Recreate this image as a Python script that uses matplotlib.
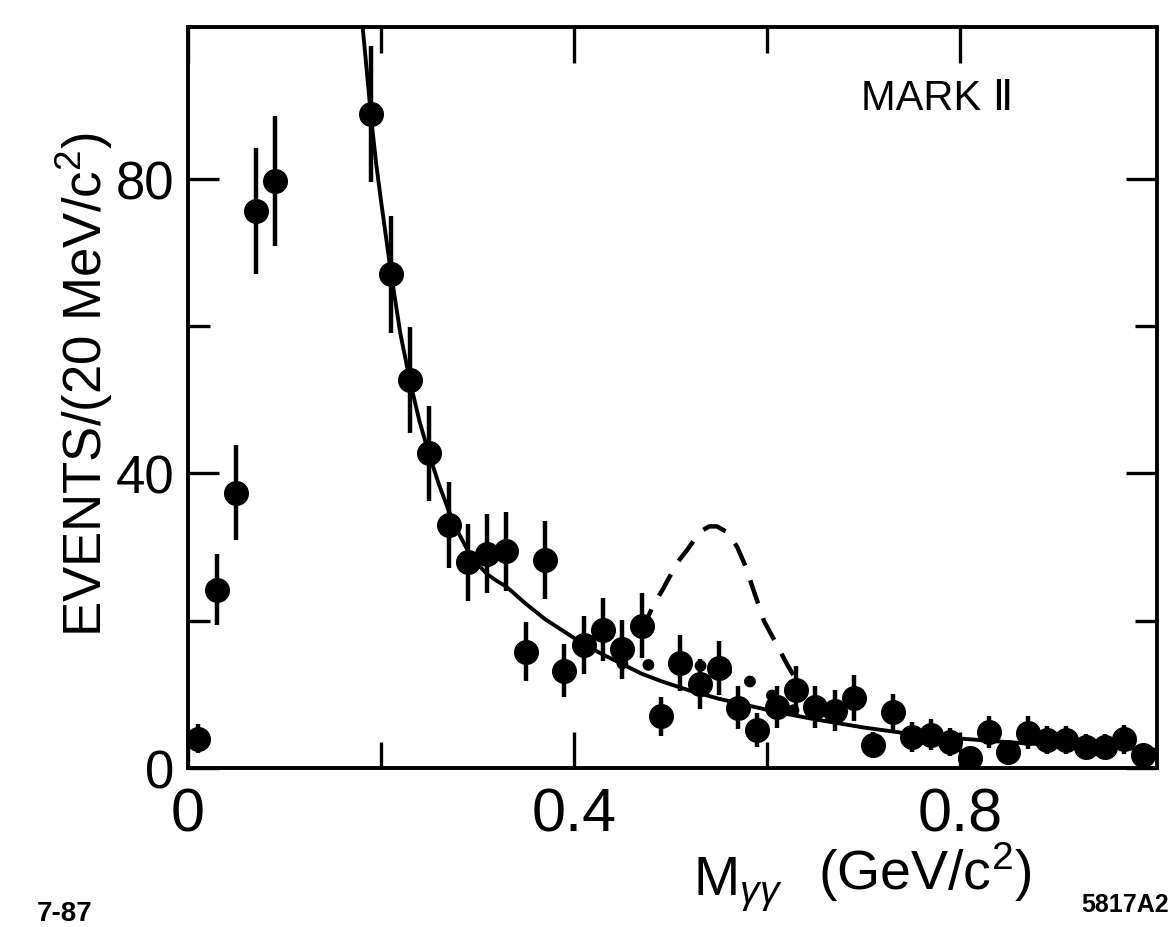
import numpy as np
import matplotlib
matplotlib.use("Agg")
import matplotlib.pyplot as plt
from matplotlib.ticker import FixedLocator, FuncFormatter

plt.rcParams['font.family'] = ['Liberation Sans', 'DejaVu Sans']
plt.rcParams['mathtext.fontset'] = 'custom'
plt.rcParams['mathtext.rm'] = 'Liberation Sans'
plt.rcParams['mathtext.it'] = 'Liberation Sans:italic'

# data: M_gg bin centres (GeV/c^2), events per 20 MeV and errors
mass = [0.01, 0.03, 0.05, 0.07, 0.09, 0.19, 0.21, 0.23, 0.25, 0.27,
        0.29, 0.31, 0.33, 0.35, 0.37, 0.39, 0.41, 0.43, 0.45, 0.47,
        0.49, 0.51, 0.53, 0.55, 0.57, 0.59, 0.61, 0.63, 0.65, 0.67,
        0.69, 0.71, 0.73, 0.75, 0.77, 0.79, 0.81, 0.83, 0.85, 0.87,
        0.89, 0.91, 0.93, 0.95, 0.97, 0.99]
events = [4.0, 24.2, 37.4, 75.6, 79.7, 88.8, 67.0, 52.7, 42.7, 33.0,
          27.9, 29.1, 29.4, 15.8, 28.2, 13.2, 16.7, 18.8, 16.1, 19.3,
          7.0, 14.3, 11.4, 13.6, 8.2, 5.2, 8.3, 10.6, 8.3, 7.8,
          9.5, 3.1, 7.6, 4.2, 4.5, 3.5, 1.4, 4.9, 2.2, 4.8,
          3.8, 3.8, 2.9, 2.9, 3.9, 1.8]
errors = [2.0, 4.8, 6.4, 8.6, 8.8, 9.2, 8.0, 7.2, 6.5, 5.8,
          5.2, 5.4, 5.4, 4.0, 5.3, 3.6, 4.0, 4.3, 4.0, 4.4,
          2.7, 3.8, 3.4, 3.7, 2.9, 2.3, 2.9, 3.3, 2.9, 2.8,
          3.1, 1.8, 2.4, 2.0, 2.1, 1.9, 1.2, 2.2, 1.5, 2.2,
          1.9, 1.9, 1.7, 1.7, 2.0, 1.3]

# background fit (solid)
bg_x = [0.181, 0.185, 0.19, 0.195, 0.20, 0.21, 0.22, 0.23, 0.24, 0.25,
        0.26, 0.27, 0.28, 0.29, 0.30, 0.31, 0.32, 0.33, 0.35, 0.37,
        0.39, 0.41, 0.43, 0.45, 0.47, 0.49, 0.52, 0.55, 0.58, 0.61,
        0.65, 0.70, 0.75, 0.80, 0.85, 0.90, 0.95, 1.0]
bg_y = [100.5, 95.0, 88.0, 82.0, 77.0, 67.5, 59.0, 52.5, 47.0, 42.5,
        38.5, 35.0, 32.0, 29.5, 27.7, 26.3, 25.4, 24.6, 22.3, 20.2,
        18.5, 16.8, 15.4, 14.1, 12.8, 11.8, 10.5, 9.4, 8.5, 7.6,
        6.6, 5.5, 4.6, 4.0, 3.5, 3.1, 2.8, 2.5]

# fitted signal on top of background (dotted)
fit_x = [0.45, 0.47, 0.49, 0.51, 0.53, 0.55, 0.57, 0.59, 0.61, 0.63, 0.645]
fit_y = [14.2, 14.0, 14.0, 14.0, 13.9, 13.4, 12.6, 11.2, 9.4, 7.6, 6.8]

# expected signal (dashed)
exp_x = [0.47, 0.481, 0.493, 0.507, 0.516, 0.531, 0.540, 0.548, 0.559,
         0.569, 0.577, 0.584, 0.591, 0.597, 0.609, 0.621, 0.63]
exp_y = [18.5, 21.8, 24.5, 27.9, 29.4, 32.1, 32.8, 32.8, 32.0,
         30.0, 27.6, 24.9, 22.2, 19.9, 17.0, 14.0, 12.0]

fig = plt.figure(figsize=(11.75, 9.28), dpi=100)
ax = fig.add_axes([188/1175, 1-769/928, (1157-188)/1175, (769-28)/928])

ax.plot(bg_x, bg_y, 'k-', lw=2.8, zorder=2)
ax.plot(fit_x, fit_y, color='k', lw=8.5, linestyle=(0, (0.01, 2.2)),
        dash_capstyle='round', zorder=2)
ax.plot(exp_x, exp_y, color='k', lw=3.2, linestyle=(0, (5.5, 3.5)), zorder=2)
ax.errorbar(mass, events, yerr=errors, fmt='o', color='k', ms=17,
            elinewidth=3.2, capsize=0, zorder=3)

ax.set_xlim(0, 1.004)
ax.set_ylim(0, 100.6)
ax.xaxis.set_major_locator(FixedLocator([0, 0.4, 0.8]))
ax.xaxis.set_minor_locator(FixedLocator([0.2, 0.6]))
ax.yaxis.set_major_locator(FixedLocator([0, 40, 80]))
ax.yaxis.set_minor_locator(FixedLocator([20, 60]))
ax.xaxis.set_major_formatter(FuncFormatter(
    lambda v, p: '0' if abs(v) < 1e-9 else f'{v:.1f}'))
ax.yaxis.set_major_formatter(FuncFormatter(lambda v, p: f'{v:.0f}'))

ax.tick_params(axis='x', which='major', direction='in', length=26, width=2.4,
               top=True, labelsize=44, pad=13)
ax.tick_params(axis='x', which='minor', direction='in', length=19, width=2.4,
               top=True)
ax.tick_params(axis='y', which='major', direction='in', length=22, width=2.4,
               right=True, labelsize=38, pad=10)
ax.tick_params(axis='y', which='minor', direction='in', length=16, width=2.4,
               right=True)
for s in ax.spines.values():
    s.set_linewidth(2.8)

ax.text(0.697, 91.0, 'MARK \u2161', fontsize=30,
        family=['Liberation Sans', 'DejaVu Sans'], ha='left', va='center')

fig.text(84/1175, 1-385/928, 'EVENTS/(20 MeV/c$^2$)', rotation=90,
         fontsize=38, ha='center', va='center')
fig.text(738/1175, 1-885/928, r'M$_{\gamma\gamma}$', fontsize=40,
         ha='center', va='center')
fig.text(925/1175, 1-872/928, '(GeV/c$^2$)', fontsize=40,
         ha='center', va='center')
fig.text(1125/1175, 1-905/928, '5817A2', fontsize=18, fontweight='bold',
         ha='center', va='center')
fig.text(65/1175, 1-914/928, '7-87', fontsize=20, fontweight='bold',
         ha='center', va='center')

fig.savefig('out.png', dpi=100)
